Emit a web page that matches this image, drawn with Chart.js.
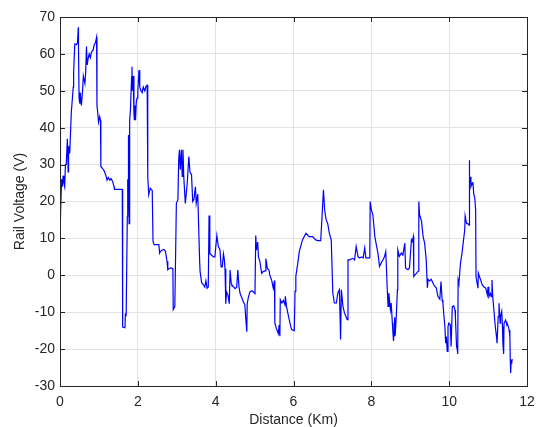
<!DOCTYPE html>
<html>
<head>
<meta charset="utf-8">
<title>Rail Voltage</title>
<script src="https://cdn.jsdelivr.net/npm/chart.js@4.4.1/dist/chart.umd.min.js"></script>
<style>
  html, body { margin: 0; padding: 0; background: #fff; }
  #wrap { width: 539px; height: 427px; }
</style>
</head>
<body>
<div id="wrap"><canvas id="railChart" width="539" height="427"></canvas></div>
<script>
// values (km, V)
const distanceKm = [
  0.00, 0.005, 0.01, 0.02, 0.04, 0.06, 0.08, 0.10, 0.12, 0.14, 0.16, 0.19, 0.21, 0.22, 0.25,
  0.29, 0.34, 0.35, 0.38, 0.42, 0.45, 0.47, 0.475, 0.49, 0.51, 0.52, 0.55, 0.58, 0.60, 0.64,
  0.66, 0.68, 0.70, 0.72, 0.75, 0.78, 0.81, 0.85, 0.88, 0.91, 0.94, 0.95, 0.97, 0.99, 1.02,
  1.04, 1.05, 1.09, 1.14, 1.18, 1.21, 1.24, 1.28, 1.31, 1.35, 1.39, 1.40, 1.59,
  1.60, 1.61, 1.67, 1.68, 1.70, 1.73, 1.74, 1.75, 1.76, 1.775, 1.79, 1.81, 1.84, 1.85, 1.86,
  1.88, 1.90, 1.91, 1.93, 1.94, 1.96, 1.98, 2.00, 2.03, 2.05, 2.08, 2.11, 2.14, 2.18, 2.21,
  2.24, 2.25, 2.26, 2.28, 2.32, 2.37, 2.39, 2.42, 2.54, 2.56, 2.58, 2.62, 2.67, 2.71, 2.75,
  2.77, 2.80, 2.85, 2.90, 2.91, 2.95, 2.97, 2.99, 3.03, 3.05, 3.07, 3.09, 3.12, 3.14, 3.16,
  3.18, 3.22, 3.27, 3.31, 3.34, 3.38, 3.41, 3.44, 3.48, 3.50, 3.54, 3.57, 3.59,
  3.60, 3.64, 3.68, 3.72, 3.75, 3.78, 3.81, 3.83, 3.85, 3.89, 3.94, 3.98, 4.03, 4.07, 4.11,
  4.14, 4.17, 4.20, 4.22, 4.24, 4.26, 4.28, 4.32, 4.35, 4.37, 4.40, 4.41, 4.45, 4.50, 4.54,
  4.57, 4.60, 4.63, 4.67, 4.71, 4.75, 4.78, 4.80, 4.81, 4.84, 4.88, 4.93, 4.97, 5.01, 5.03,
  5.05, 5.08, 5.10, 5.14, 5.18, 5.22, 5.27, 5.29, 5.33, 5.37, 5.39, 5.44, 5.48, 5.51, 5.52,
  5.56, 5.61, 5.63, 5.65, 5.66, 5.70, 5.74, 5.78, 5.79, 5.82, 5.86, 5.90, 5.95, 6.02, 6.04,
  6.06, 6.11, 6.15, 6.23, 6.32, 6.40, 6.49, 6.57, 6.63, 6.70, 6.77, 6.80, 6.84, 6.88, 6.92,
  6.97, 7.01, 7.05, 7.10, 7.14, 7.18, 7.21, 7.23, 7.27, 7.31, 7.38, 7.40, 7.44, 7.52, 7.57,
  7.61, 7.66, 7.70, 7.75, 7.79, 7.83, 7.86, 7.92, 7.96, 7.97, 8.00, 8.04, 8.09, 8.13, 8.17,
  8.21, 8.25, 8.30, 8.34, 8.37, 8.38, 8.41, 8.43, 8.45, 8.49, 8.51, 8.54, 8.55, 8.57, 8.60,
  8.61, 8.64, 8.67, 8.68, 8.72, 8.77, 8.81, 8.86, 8.88, 8.94, 8.98, 9.03, 9.05, 9.08, 9.09,
  9.12, 9.16, 9.20, 9.22, 9.24, 9.29, 9.33, 9.37, 9.41, 9.44, 9.46, 9.50, 9.54, 9.58, 9.62,
  9.67, 9.71, 9.76, 9.79, 9.82, 9.84, 9.86, 9.89, 9.91, 9.93, 9.95, 9.97, 9.99, 10.03, 10.05,
  10.08, 10.12, 10.15, 10.16, 10.19, 10.21, 10.22, 10.23, 10.25, 10.27, 10.29, 10.33, 10.38, 10.40, 10.41,
  10.42, 10.45, 10.48, 10.51, 10.515, 10.53, 10.55, 10.56, 10.59, 10.61, 10.63, 10.66, 10.68, 10.69, 10.71,
  10.74, 10.75, 10.78, 10.81, 10.85, 10.89, 10.94, 10.98, 11.00, 11.02, 11.06, 11.08, 11.10, 11.12, 11.15,
  11.17, 11.19, 11.22, 11.23, 11.26, 11.28, 11.31, 11.32, 11.35, 11.37, 11.38, 11.40, 11.41, 11.45, 11.48,
  11.49, 11.52, 11.54, 11.56, 11.57, 11.58, 11.59, 11.61, 11.64
];

const railVoltage = [
  15.4, 40.2, 22, 15.5, 26, 24, 27, 25, 24, 30, 30, 37, 28, 35, 33,
  44, 51, 55, 62.7, 62.5, 63, 67.2, 62, 48, 46.5, 49.5, 46, 50, 54, 52,
  55, 62, 57, 58.5, 60, 59, 60.5, 61, 62.5, 63, 64.5, 46, 44, 41.5, 43,
  42, 29.5, 29, 28.2, 27, 25.8, 26.5, 25.8, 26.2, 25.5, 24, 23.3, 23.3,
  23.3, -14, -14.2, -10.6, -10.8, 16, 26, 18, 38, 14, 42, 44.8, 53.8, 56.5, 50,
  54, 44, 42, 46, 42, 47, 48, 50, 55.6, 51, 50, 49.5, 51, 50, 51.2,
  51.5, 33, 26.8, 21.8, 23.6, 23, 9.2, 8.3, 8.3, 6.0, 6.5, 6.8, 7, 6.5, 3.8,
  1.5, 1.8, 2, 1.8, -9.3, -8.5, 5.1, 19.5, 20.5, 31.3, 34, 28.6, 34, 26.8, 34,
  26.8, 19.5, 25, 32.2, 28, 27.2, 20, 20.5, 24, 19.5, 22, 10.5, 3.3,
  1.0, -2, -2.5, -3.2, -1.5, -3.5, -3.2, 16.2, 5.9, 5.5, 5, 5, 10.8, 7.7, 7,
  2.3, 2.3, 5.8, 4.5, 1.8, -7.7, -4.5, -5.5, -7.7, 1.4, -2.2, -2.5, -3, -3.6, -3.2,
  1.4, -3.2, -5, -6, -7.2, -8, -12.6, -15.3, -7.7, -6, -4.5, -4.2, -4.5, -5, 10.8,
  6.8, 9, 5, 3.6, 0.5, 1, 1.2, 4.5, 1.8, 1.4, 0.1, -1.4, -3.5, -1.4, -13,
  -14.4, -15.8, -13.5, -16.5, -6.6, -7.5, -6.8, -8, -5.7, -8.4, -10.5, -12.5, -14.7, -15, -4.3,
  -0.3, 3.3, 6.5, 9.6, 11.4, 10.5, 10.5, 9.6, 9.4, 9.4, 23.2, 17.7, 15, 14, 11.4,
  9.6, -4.8, -7.5, -7.5, -4.8, -3.9, -17.4, -3.9, -8.4, -10.2, -12, 4.2, 4.2, 4.6, 4.2,
  7.8, 5, 4.7, 5, 4.7, 7.4, 4.7, 4.7, 4.7, 20, 17.8, 16.4, 10.5, 8.2, 6,
  2.4, 3.3, 4.2, 5.1, 6.4, 4.2, -3.9, -8.4, -4.8, -9.3, -7.5, -12.9, -14.7, -17.8, -11.4,
  -16.5, -11.4, -3.9, 6.9, 5.1, 6, 5.5, 8.7, 2, 1.5, 2, 9.6, 9.2, 10.5, -0.3,
  0.1, 0.5, 1.1, 20, 16.4, 14.6, 10.5, 8.7, 4.2, -3.4, -1.1, -1.5, -1.1, -2, -2.9,
  -3.4, -5.7, -6.5, -1.7, -6.7, -7.6, -10.3, -13.9, -18.4, -16.6, -20.6, -13.9, -13, -13.4, -19.3,
  -8.5, -8.3, -9.4, -11.2, -19.3, -20.2, -21.3, -1.3, -2.2, 0.5, 3.2, 6, 10.5, 12.3, 16,
  15.4, 14, 14, 13.6, 31.2, 24.9, 26.7, 24, 24.9, 25.3, 22.2, 20.8, 17.7, -0.4, -0.4,
  -3.5, 0.6, -0.4, -1.3, -2.6, -3.1, -3.5, -5.3, -3.1, -5.8, -4.9, -5.8, -1.3, -5.8, -9.4,
  -12.1, -14.3, -17, -18.4, -11.2, -7.6, -13, -11.2, -9.8, -13.9, -18.4, -21.3, -13, -12.1, -13.4,
  -13, -13.9, -14.8, -16.6, -22.9, -26.5, -23.8, -22.9, -22.9
];

const xTickValues = [0, 2, 4, 6, 8, 10, 12];
const yTickValues = [-30, -20, -10, 0, 10, 20, 30, 40, 50, 60, 70];

const axisColor = '#262626';
const gridColor = '#e3e3e3';
const fontFamily = '"Liberation Sans", Arial, Helvetica, sans-serif';

// MATLAB style box with inward tick marks on all four sides
const boxAndTicks = {
  id: 'boxAndTicks',
  afterDraw(chart) {
    const { ctx, chartArea: a, scales } = chart;
    const len = 5;
    ctx.save();
    ctx.strokeStyle = axisColor;
    ctx.lineWidth = 1;
    ctx.beginPath();
    xTickValues.forEach(v => {
      const px = Math.round(scales.x.getPixelForValue(v)) + 0.5;
      ctx.moveTo(px, a.bottom); ctx.lineTo(px, a.bottom - len);
      ctx.moveTo(px, a.top); ctx.lineTo(px, a.top + len);
    });
    yTickValues.forEach(v => {
      const py = Math.round(scales.y.getPixelForValue(v)) + 0.5;
      ctx.moveTo(a.left, py); ctx.lineTo(a.left + len, py);
      ctx.moveTo(a.right, py); ctx.lineTo(a.right - len, py);
    });
    ctx.stroke();
    ctx.strokeRect(Math.round(a.left) + 0.5, Math.round(a.top) + 0.5,
                   Math.round(a.right - a.left), Math.round(a.bottom - a.top));
    ctx.restore();
  }
};

const points = distanceKm.map((d, i) => ({ x: d, y: railVoltage[i] }));

new Chart(document.getElementById('railChart'), {
  type: 'line',
  data: {
    datasets: [{
      data: points,
      borderColor: '#0000ff',
      borderWidth: 1.2,
      pointRadius: 0,
      tension: 0,
      fill: false
    }]
  },
  options: {
    responsive: false,
    devicePixelRatio: 1,
    animation: false,
    parsing: false,
    layout: { padding: { top: 17, right: 12, left: 0, bottom: 0 } },
    plugins: { legend: { display: false }, tooltip: { enabled: false } },
    scales: {
      x: {
        type: 'linear',
        min: 0, max: 12,
        afterBuildTicks: s => { s.ticks = xTickValues.map(v => ({ value: v })); },
        afterFit: s => { s.height = 41; s.paddingLeft = 0; s.paddingRight = 0; },
        grid: { color: gridColor, drawTicks: false },
        border: { display: false },
        ticks: { color: axisColor, padding: 8, font: { family: fontFamily, size: 14 } },
        title: {
          display: true, text: 'Distance (Km)', color: axisColor,
          padding: 0, font: { family: fontFamily, size: 14, lineHeight: 1 }
        }
      },
      y: {
        type: 'linear',
        min: -30, max: 70,
        afterBuildTicks: s => { s.ticks = yTickValues.map(v => ({ value: v })); },
        afterFit: s => { s.width = 60; s.paddingTop = 0; s.paddingBottom = 0; },
        grid: { color: gridColor, drawTicks: false },
        border: { display: false },
        ticks: { color: axisColor, padding: 5, font: { family: fontFamily, size: 14 } },
        title: {
          display: true, text: 'Rail Voltage (V)', color: axisColor,
          padding: { top: 13 }, font: { family: fontFamily, size: 14, lineHeight: 1 }
        }
      }
    }
  },
  plugins: [boxAndTicks]
});
</script>
</body>
</html>
